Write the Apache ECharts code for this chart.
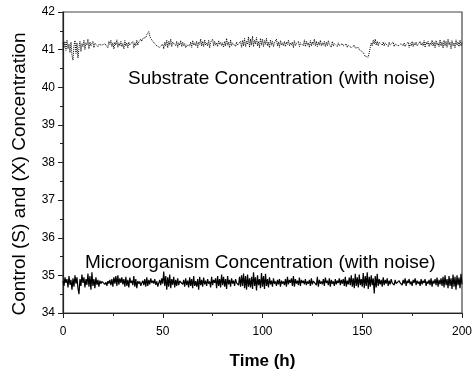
<!DOCTYPE html>
<html>
<head>
    <title>Control (S) and (X) Concentration</title>
    <style>
        body { margin: 0; padding: 0; background: #fff; }
        #chart { width: 473px; height: 369px; }
    </style>
</head>
<body>
    <div id="chart"></div>
    <script src="https://cdn.jsdelivr.net/npm/echarts@6/dist/echarts.min.js"></script>
    <script>
        const timeStep = 0.5;
        const xTicks = [0, 50, 100, 150, 200];
        const yTicks = [34, 35, 36, 37, 38, 39, 40, 41, 42];

        const substrate = [
            41.18,41.05,41.22,40.98,41.25,41.02,41.15,40.92,41.2,40.85,40.72,41.1,41.24,40.9,41.18,40.78,41.05,41.22,40.95,41.16,
            41.08,41.25,41.0,41.18,41.12,41.28,41.02,41.2,41.1,41.15,41.22,41.05,41.17,41.12,41.2,41.08,41.14,41.1,41.18,41.12,
            41.15,41.1,41.16,41.12,41.2,41.05,41.22,41.14,41.25,41.08,41.18,41.02,41.2,41.12,41.26,41.06,41.18,41.1,41.22,41.08,
            41.16,41.02,41.24,41.1,41.18,41.05,41.2,41.12,41.15,41.08,41.22,41.04,41.18,41.1,41.25,41.12,41.2,41.15,41.28,41.22,
            41.3,41.26,41.35,41.32,41.4,41.38,41.48,41.36,41.3,41.25,41.22,41.18,41.16,41.12,41.1,41.08,41.12,41.06,41.1,41.05,
            41.15,41.02,41.2,41.1,41.25,41.05,41.22,41.12,41.28,41.08,41.2,41.15,41.25,41.1,41.22,41.06,41.18,41.12,41.24,41.08,
            41.2,41.1,41.16,41.05,41.12,41.08,41.15,41.1,41.2,41.06,41.24,41.12,41.18,41.1,41.22,41.05,41.2,41.14,41.28,41.1,
            41.22,41.08,41.26,41.12,41.18,41.1,41.25,41.05,41.2,41.15,41.28,41.1,41.22,41.12,41.18,41.08,41.24,41.14,41.2,41.1,
            41.18,41.06,41.22,41.1,41.3,41.12,41.2,41.05,41.26,41.1,41.18,41.14,41.22,41.08,41.2,41.12,41.16,41.1,41.22,41.06,
            41.25,41.1,41.3,41.08,41.22,41.14,41.34,41.06,41.28,41.12,41.36,41.08,41.25,41.15,41.32,41.1,41.22,41.05,41.3,41.12,
            41.28,41.08,41.24,41.14,41.3,41.1,41.2,41.05,41.26,41.12,41.22,41.08,41.18,41.14,41.28,41.1,41.2,41.06,41.24,41.12,
            41.18,41.1,41.22,41.08,41.2,41.14,41.25,41.1,41.18,41.12,41.2,41.05,41.24,41.1,41.16,41.12,41.22,41.08,41.18,41.14,
            41.2,41.1,41.26,41.08,41.22,41.12,41.18,41.06,41.24,41.1,41.2,41.14,41.28,41.1,41.22,41.08,41.2,41.12,41.25,41.1,
            41.18,41.12,41.22,41.08,41.2,41.1,41.24,41.14,41.18,41.06,41.22,41.1,41.16,41.12,41.2,41.08,41.18,41.1,41.14,41.08,
            41.16,41.1,41.12,41.08,41.15,41.06,41.12,41.1,41.14,41.05,41.1,41.08,41.12,41.04,41.08,41.02,41.06,41.0,41.04,40.98,
            40.95,40.9,40.88,40.82,40.78,40.85,40.8,40.92,41.05,41.18,41.1,41.25,41.15,41.28,41.12,41.22,41.1,41.2,41.15,41.24,
            41.12,41.2,41.1,41.18,41.14,41.22,41.08,41.2,41.12,41.16,41.1,41.2,41.08,41.15,41.12,41.18,41.1,41.14,41.06,41.16,
            41.12,41.1,41.18,41.08,41.14,41.12,41.2,41.06,41.16,41.1,41.22,41.08,41.18,41.12,41.2,41.1,41.15,41.08,41.22,41.12,
            41.18,41.1,41.24,41.06,41.2,41.14,41.22,41.08,41.18,41.12,41.25,41.1,41.2,41.05,41.24,41.12,41.18,41.08,41.26,41.1,
            41.2,41.04,41.25,41.1,41.22,41.06,41.28,41.12,41.2,41.02,41.24,41.1,41.18,41.05,41.26,41.12,41.2,41.08,41.25,41.1,
            41.18
        ];

        const microorganism = [
            34.85,34.72,34.95,34.8,34.9,34.68,34.98,34.75,34.88,34.62,34.92,34.7,35.0,34.78,34.95,34.66,34.5,34.9,34.72,35.02,
            34.8,34.95,34.68,34.9,34.75,35.05,34.7,34.98,34.62,35.08,34.72,34.9,34.66,34.95,34.75,34.88,34.7,34.86,34.78,34.84,
            34.8,34.86,34.76,34.82,34.72,34.85,34.78,34.88,34.74,34.9,34.7,34.95,34.78,34.98,34.72,35.0,34.75,34.92,34.8,34.95,
            34.76,34.9,34.7,34.96,34.72,34.88,34.68,34.94,34.8,34.86,34.74,34.98,34.7,34.9,34.66,34.85,34.78,34.84,34.72,34.8,
            34.86,34.74,34.9,34.7,34.95,34.72,34.88,34.76,34.92,34.8,34.86,34.78,34.9,34.75,34.84,34.7,34.8,34.88,34.74,34.92,
            34.78,35.1,34.72,34.98,34.62,34.95,34.7,35.02,34.66,34.9,34.75,34.96,34.68,34.88,34.72,34.92,34.74,34.85,34.8,34.82,
            34.76,34.88,34.7,34.92,34.74,34.86,34.68,34.95,34.72,34.9,34.66,34.98,34.72,34.85,34.7,34.9,34.62,34.96,34.74,34.88,
            34.7,34.94,34.76,34.86,34.72,34.9,34.78,34.84,34.68,34.96,34.74,34.88,34.8,34.92,34.66,34.98,34.72,34.9,34.68,35.02,
            34.74,34.96,34.7,34.9,34.64,34.98,34.76,34.88,34.7,34.92,34.78,34.86,34.72,34.9,34.8,34.84,34.74,34.96,34.7,35.0,
            34.72,35.05,34.66,34.98,34.62,35.02,34.7,34.92,34.68,34.96,34.64,35.08,34.72,34.95,34.6,35.0,34.74,34.9,34.66,35.06,
            34.7,34.98,34.64,35.04,34.72,34.9,34.68,34.95,34.76,34.86,34.7,34.92,34.78,34.84,34.72,34.88,34.76,34.9,34.7,34.86,
            34.78,34.84,34.74,34.9,34.7,34.96,34.76,34.88,34.8,34.92,34.72,34.98,34.7,34.9,34.78,34.86,34.74,34.94,34.72,34.88,
            34.8,34.86,34.76,34.9,34.74,34.84,34.78,34.88,34.72,34.92,34.76,34.85,34.8,34.9,34.74,34.96,34.7,34.88,34.78,34.84,
            34.76,34.9,34.72,34.94,34.8,34.86,34.74,34.92,34.7,34.88,34.78,34.84,34.72,34.9,34.76,34.86,34.8,34.92,34.74,34.88,
            34.78,34.9,34.72,34.96,34.7,34.86,34.76,34.94,34.74,35.0,34.7,34.92,34.66,35.04,34.72,34.95,34.68,35.02,34.74,34.9,
            34.7,35.06,34.66,34.98,34.72,35.08,34.64,34.96,34.7,35.0,34.74,34.92,34.52,34.98,34.68,35.04,34.72,34.9,34.76,34.88,
            34.7,34.95,34.74,34.88,34.78,34.92,34.72,34.86,34.76,34.9,34.8,34.84,34.74,34.88,34.78,34.82,34.76,34.86,34.8,34.84,
            34.74,34.88,34.78,34.92,34.72,34.86,34.8,34.9,34.76,34.84,34.72,34.88,34.8,34.92,34.74,34.86,34.78,34.84,34.72,34.9,
            34.76,34.86,34.8,34.9,34.72,34.84,34.78,34.88,34.74,34.92,34.7,34.86,34.78,34.9,34.74,34.94,34.7,34.88,34.76,34.92,
            34.72,34.96,34.68,35.0,34.74,34.9,34.66,34.98,34.72,34.92,34.64,35.02,34.7,34.96,34.62,35.0,34.74,34.94,34.66,35.04,
            34.76
        ];

        const labels = {
            substrate: 'Substrate Concentration (with noise)',
            microorganism: 'Microorganism Concentration (with noise)',
            xName: 'Time (h)',
            yName: 'Control (S) and (X) Concentration'
        };

        const pairs = arr => arr.map((v, i) => [i * timeStep, v]);

        const chart = echarts.init(document.getElementById('chart'));
        const font = 'Arial, "Liberation Sans", sans-serif';

        chart.setOption({
            animation: false,
            grid: {
                left: 63, right: 11, top: 12, bottom: 56,
                outerBoundsMode: 'none',
                containLabel: false,
                show: true, borderColor: '#444', borderWidth: 1.2,
                backgroundColor: 'transparent'
            },
            xAxis: {
                type: 'value',
                min: xTicks[0], max: xTicks[xTicks.length - 1], interval: 50,
                name: labels.xName, nameLocation: 'middle', nameGap: 31,
                nameTextStyle: { fontFamily: font, fontSize: 17, fontWeight: 'bold', color: '#000' },
                axisLine: { lineStyle: { color: '#222', width: 1.2 } },
                axisTick: { inside: false, length: 5, lineStyle: { color: '#222' } },
                minorTick: { show: true, splitNumber: 2, length: 3, lineStyle: { color: '#222' } },
                axisLabel: { fontFamily: font, fontSize: 12, color: '#000', margin: 8 },
                splitLine: { show: false }
            },
            yAxis: {
                type: 'value',
                min: yTicks[0], max: yTicks[yTicks.length - 1], interval: 1,
                axisLine: { lineStyle: { color: '#222', width: 1.2 } },
                axisTick: { inside: false, length: 5, lineStyle: { color: '#222' } },
                minorTick: { show: true, splitNumber: 2, length: 3, lineStyle: { color: '#222' } },
                axisLabel: { fontFamily: font, fontSize: 12, color: '#000', margin: 8 },
                splitLine: { show: false }
            },
            series: [
                {
                    name: labels.substrate,
                    type: 'line',
                    data: pairs(substrate),
                    showSymbol: false,
                    lineStyle: { color: '#000', width: 1, type: 'dotted' }
                },
                {
                    name: labels.microorganism,
                    type: 'line',
                    data: pairs(microorganism),
                    showSymbol: false,
                    lineStyle: { color: '#000', width: 1.2 }
                }
            ],
            graphic: [
                {
                    // y axis title sits a bit below the plot centre in the original
                    type: 'text', x: 20, y: 174, rotation: Math.PI / 2,
                    style: { text: labels.yName, font: '19px ' + font, fill: '#000',
                             align: 'center', verticalAlign: 'middle' }
                },
                {
                    type: 'text', left: 128, top: 62,
                    style: { text: labels.substrate, font: '19px ' + font, fill: '#000' }
                },
                {
                    type: 'text', left: 85, top: 246,
                    style: { text: labels.microorganism, font: '19px ' + font, fill: '#000' }
                }
            ]
        });
    </script>
</body>
</html>
